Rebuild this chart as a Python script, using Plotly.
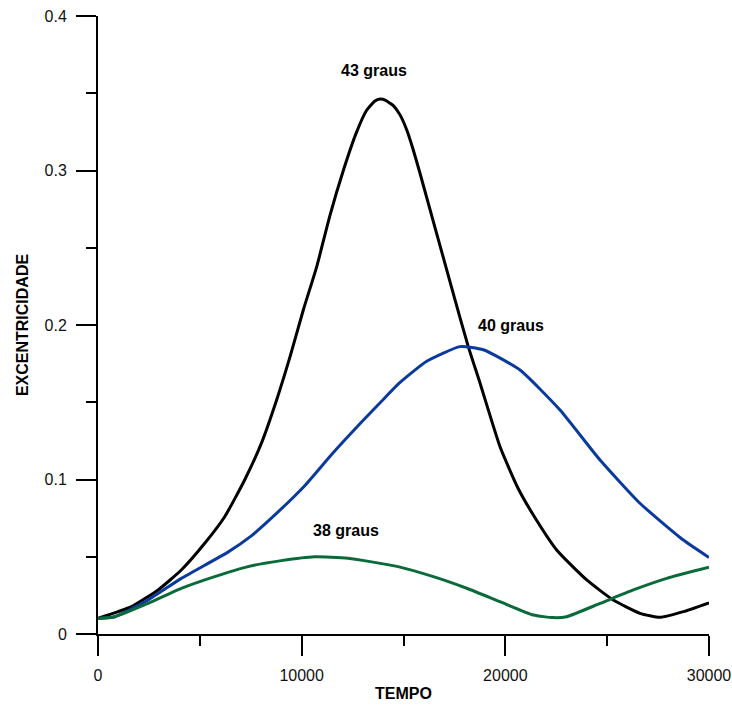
import plotly.graph_objects as go

# 43 graus (black)
t43 = [0, 1640, 2950, 4090, 5240, 6220, 7200, 8020, 8770, 9430, 10080, 10740, 11390, 12045,
       12700, 13190, 13600, 13845, 14100, 14500, 14830, 15160, 15480, 15810, 17530, 18180, 18760,
       19740, 20600, 21375, 22520, 23995, 25300, 26610, 27590, 28740, 30000]
e43 = [0.0101, 0.0177, 0.0285, 0.0414, 0.0587, 0.0759, 0.0997, 0.1234, 0.1515, 0.1795, 0.2097,
       0.2378, 0.2710, 0.3000, 0.3250, 0.3390, 0.3450, 0.3462, 0.3455, 0.3420, 0.3360, 0.3262,
       0.3133, 0.2982, 0.2162, 0.186, 0.1623, 0.1212, 0.0950, 0.0770, 0.0544, 0.035, 0.022,
       0.0134, 0.0108, 0.0145, 0.0202]

# 40 graus (blue)
t40 = [0, 820, 2455, 4090, 6380, 7530, 8350, 10150, 11460, 12930, 13910, 14830, 16140, 17775,
       18920, 20720, 22685, 24650, 26610, 28740, 30000]
e40 = [0.0101, 0.0112, 0.022, 0.036, 0.0530, 0.0635, 0.0730, 0.0960, 0.1160, 0.1370, 0.1505,
       0.1628, 0.1765, 0.186, 0.1840, 0.1709, 0.145, 0.1126, 0.0846, 0.0608, 0.0495]

# 38 graus (green)
t38 = [0, 820, 2455, 4090, 5730, 7365, 9000, 10640, 12275, 14730, 16465, 18100, 19740, 21375,
       22355, 23010, 24650, 26285, 27920, 30000]
e38 = [0.0101, 0.0112, 0.0198, 0.0295, 0.0371, 0.0436, 0.0475, 0.05, 0.049, 0.0436, 0.0371,
       0.0296, 0.0209, 0.0123, 0.0106, 0.0112, 0.0198, 0.0285, 0.036, 0.0432]

labels = ["43 graus", "40 graus", "38 graus"]
label_x = [13550, 20280, 12180]
label_y = [0.365, 0.2, 0.0673]

x_ticks = [0, 10000, 20000, 30000]
x_minor = [5000, 15000, 25000]
y_ticks = [0, 0.1, 0.2, 0.3, 0.4]
y_tick_text = ["0", "0.1", "0.2", "0.3", "0.4"]
y_minor = [0.05, 0.15, 0.25, 0.35]

FONT = "Liberation Sans, Arial"

fig = go.Figure()
for t, e, c in [(t43, e43, "#000000"), (t40, e40, "#0A3A9C"), (t38, e38, "#0B6A3A")]:
    fig.add_trace(go.Scatter(x=t, y=e, mode="lines",
                             line=dict(color=c, width=3, shape="spline", smoothing=0.5),
                             showlegend=False, hoverinfo="skip"))

for txt, lx, ly in zip(labels, label_x, label_y):
    fig.add_annotation(x=lx, y=ly, text="<b>" + txt + "</b>", showarrow=False,
                       font=dict(family=FONT, size=16, color="#000000"))

axis_common = dict(showgrid=False, zeroline=False, showline=True, linecolor="black", linewidth=2,
                   ticks="outside", ticklen=20, tickwidth=2, tickcolor="black",
                   tickfont=dict(family=FONT, size=16, color="#111111"),
                   automargin=False, mirror=False)

fig.update_xaxes(range=[0, 30000], tickvals=x_ticks, ticktext=[str(v) for v in x_ticks],
                 minor=dict(tickvals=x_minor, ticklen=10, tickwidth=2, tickcolor="black", ticks="outside"),
                 ticklabelstandoff=6,
                 title=dict(text="<b>TEMPO</b>", font=dict(family=FONT, size=16, color="#000000"),
                            standoff=5),
                 **axis_common)
fig.update_yaxes(range=[0, 0.4], tickvals=y_ticks, ticktext=y_tick_text,
                 minor=dict(tickvals=y_minor, ticklen=10, tickwidth=2, tickcolor="black", ticks="outside"),
                 ticklabelstandoff=6,
                 title=dict(text="<b>EXCENTRICIDADE</b>", font=dict(family=FONT, size=16, color="#000000"),
                            standoff=12),
                 **axis_common)

fig.update_layout(width=732, height=707, margin=dict(l=98, r=23, t=16, b=73),
                  plot_bgcolor="white", paper_bgcolor="white")

fig.write_html("out.html")
